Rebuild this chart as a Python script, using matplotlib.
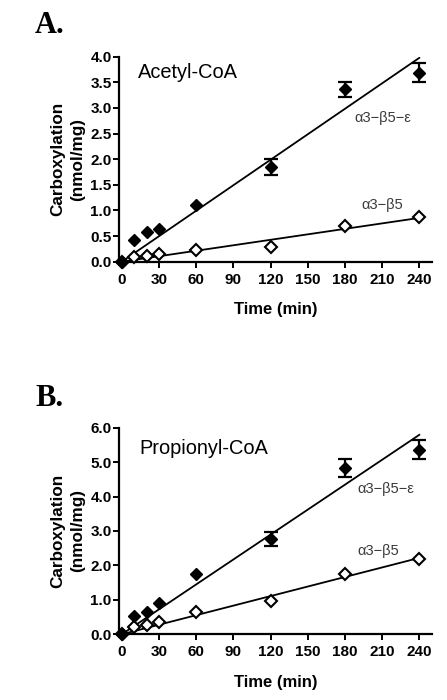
import numpy as np
import matplotlib
matplotlib.use("Agg")
import matplotlib.pyplot as plt
from matplotlib.ticker import FormatStrFormatter, MultipleLocator

# ---- data ----
time = [0, 10, 20, 30, 60, 120, 180, 240]

acetyl_eps = [0.0, 0.42, 0.585, 0.63, 1.10, 1.85, 3.36, 3.69]
acetyl_eps_err = [0, 0, 0, 0, 0, 0.15, 0.15, 0.18]
acetyl_b5 = [0.0, 0.09, 0.12, 0.15, 0.22, 0.29, 0.70, 0.865]

propionyl_eps = [0.0, 0.53, 0.66, 0.90, 1.75, 2.77, 4.84, 5.36]
propionyl_eps_err = [0, 0, 0, 0, 0, 0.21, 0.26, 0.28]
propionyl_b5 = [0.0, 0.20, 0.27, 0.35, 0.64, 0.97, 1.74, 2.19]

panel_letters = ["A.", "B."]
substrates = ["Acetyl-CoA", "Propionyl-CoA"]
series_labels = ["α3−β5−ε", "α3−β5"]
xticks = [0, 30, 60, 90, 120, 150, 180, 210, 240]

plt.rcParams['font.family'] = ['Liberation Sans', 'DejaVu Sans']

fig = plt.figure(figsize=(4.47, 7.0), dpi=100)

W, H = 447.0, 700.0
ax_specs = [
    dict(rect=[119.3 / W, 1 - 261.7 / H, (431.7 - 119.3) / W, (261.7 - 56.7) / H],
         ymax=4.0, ystep=0.5,
         eps=acetyl_eps, err=acetyl_eps_err, b5=acetyl_b5,
         sub_pos=(13, 3.70), eps_lab=(188, 2.80), b5_lab=(193, 1.11),
         letter_y=1 - 33 / H),
    dict(rect=[119.3 / W, 1 - 634.3 / H, (431.7 - 119.3) / W, (634.3 - 427.7) / H],
         ymax=6.0, ystep=1.0,
         eps=propionyl_eps, err=propionyl_eps_err, b5=propionyl_b5,
         sub_pos=(14, 5.41), eps_lab=(190, 4.22), b5_lab=(190, 2.42),
         letter_y=1 - 406.5 / H),
]

t = np.array(time, dtype=float)
for i, spec in enumerate(ax_specs):
    ax = fig.add_axes(spec["rect"])
    eps = np.array(spec["eps"])
    b5 = np.array(spec["b5"])
    err = np.array(spec["err"])

    # linear fits through origin
    xfit = np.array([0, 240.0])
    for y in (eps, b5):
        slope = np.sum(t * y) / np.sum(t * t)
        ax.plot(xfit, slope * xfit, color='black', lw=1.3, zorder=2)

    m = err > 0
    ax.errorbar(t[m], eps[m], yerr=err[m], fmt='none', ecolor='black',
                elinewidth=1.6, capsize=5, capthick=1.6, zorder=3)

    ax.plot(t, b5, linestyle='none', marker='D', markersize=6.3,
            markerfacecolor='white', markeredgecolor='black',
            markeredgewidth=1.5, zorder=4, clip_on=False)
    ax.plot(t, eps, linestyle='none', marker='D', markersize=6.3,
            markerfacecolor='black', markeredgecolor='black',
            markeredgewidth=1.0, zorder=5, clip_on=False)

    ax.set_xlim(-2, 250)
    ax.set_ylim(0, spec["ymax"])
    ax.set_xticks(xticks)
    ax.yaxis.set_major_locator(MultipleLocator(spec["ystep"]))
    ax.yaxis.set_major_formatter(FormatStrFormatter('%.1f'))

    for s in ('top', 'right'):
        ax.spines[s].set_visible(False)
    for s in ('left', 'bottom'):
        ax.spines[s].set_linewidth(1.6)

    ax.tick_params(axis='both', direction='out', length=4, width=1.4,
                   labelsize=11, pad=1.5)
    ax.tick_params(axis='x', pad=4)
    for lab in ax.get_xticklabels() + ax.get_yticklabels():
        lab.set_fontweight('bold')

    ax.set_xlabel("Time (min)", fontsize=12, fontweight='bold', labelpad=11)
    ax.set_ylabel("Carboxylation\n(nmol/mg)", fontsize=12.3, fontweight='bold',
                  labelpad=4, linespacing=1.35)

    ax.text(spec["sub_pos"][0], spec["sub_pos"][1], substrates[i],
            fontsize=14.4, ha='left', va='center')
    ax.text(spec["eps_lab"][0], spec["eps_lab"][1], series_labels[0],
            fontsize=10.5, ha='left', va='center', color='#3a3a3a')
    ax.text(spec["b5_lab"][0], spec["b5_lab"][1], series_labels[1],
            fontsize=10.5, ha='left', va='center', color='#3a3a3a')

    fig.text(35 / W, spec["letter_y"], panel_letters[i], fontsize=22,
             fontweight='bold', family=['Liberation Serif', 'DejaVu Serif'],
             ha='left', va='baseline')

fig.savefig("out.png", dpi=100)
